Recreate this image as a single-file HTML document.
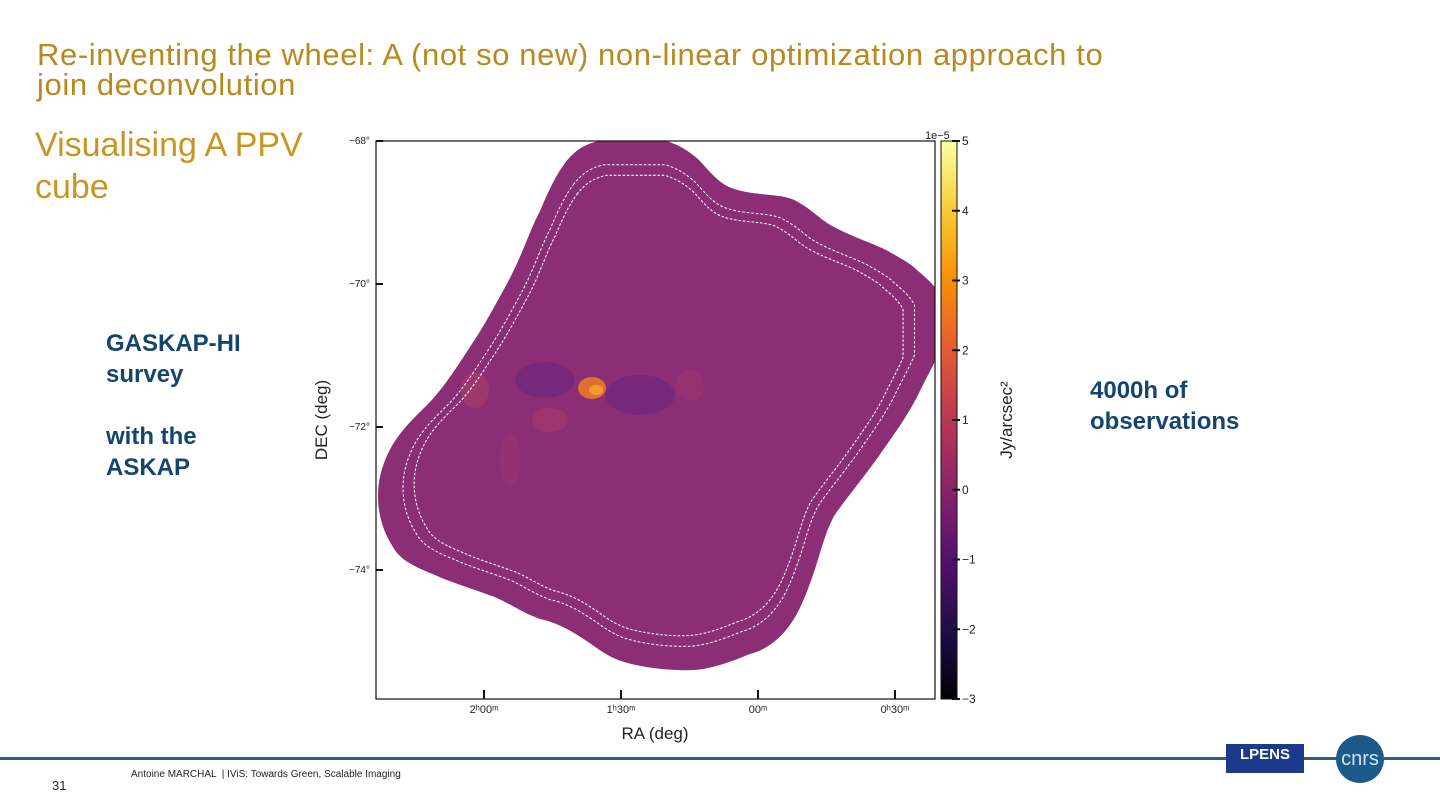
<!DOCTYPE html>
<html><head><meta charset="utf-8"><style>
body{margin:0;width:1440px;height:810px;background:#fff;position:relative;overflow:hidden;font-family:"Liberation Sans",sans-serif}
.t{position:absolute;margin:0}
</style></head><body>
<div class="t" style="left:37px;top:40px;font-size:31px;line-height:30px;color:#b8891f;letter-spacing:0.6px">Re-inventing the wheel: A (not so new) non-linear optimization approach to<br>join deconvolution</div>
<div class="t" style="left:35px;top:124px;font-size:34px;line-height:42px;color:#c99522">Visualising A PPV<br>cube</div>
<div class="t" style="left:106px;top:328px;font-size:24px;line-height:31px;color:#15456e;font-weight:bold">GASKAP-HI<br>survey<br><br>with the<br>ASKAP</div>
<div class="t" style="left:1090px;top:375px;font-size:24px;line-height:31px;color:#15456e;font-weight:bold">4000h of<br>observations</div>

<svg id="chart" width="1440" height="810" style="position:absolute;left:0;top:0" xmlns="http://www.w3.org/2000/svg">
<defs>
<linearGradient id="inferno" x1="0" y1="1" x2="0" y2="0">
<stop offset="0" stop-color="#000004"/><stop offset="0.12" stop-color="#1f0c48"/><stop offset="0.25" stop-color="#550f6d"/><stop offset="0.37" stop-color="#88226a"/><stop offset="0.5" stop-color="#ba3655"/><stop offset="0.62" stop-color="#e35933"/><stop offset="0.75" stop-color="#f98e09"/><stop offset="0.87" stop-color="#f8c932"/><stop offset="1" stop-color="#fcffa4"/>
</linearGradient>
<clipPath id="clip"><rect x="376" y="141" width="559" height="558"/></clipPath>
<path id="shape" d="M565,163 C575,150 585,144 599,141 L666,141 C680,145 690,152 699,160 C710,172 718,182 729,187 C750,196 775,193 792,199 C810,207 820,220 834,227 C855,238 875,244 888,251 C900,258 910,263 917,270 C926,278 934,284 940,295 L940,350 C934,365 925,380 917,397 C905,420 890,440 876,460 C860,482 845,500 834,516 C824,535 820,555 813,575 C806,595 800,610 792,622 C780,640 765,650 750,654 C730,662 715,668 695,670 C670,671 645,668 624,662 C605,656 595,646 582,638 C570,630 555,622 540,619 C520,612 505,600 489,595 C470,588 450,582 435,575 C415,567 400,560 393,547 C382,530 378,512 378,496 C378,475 385,458 393,444 C403,428 415,417 427,405 C442,390 455,370 468,350 C485,325 498,300 510,278 C522,255 530,230 540,211 C548,192 556,175 565,163 Z"/>
</defs>
<g clip-path="url(#clip)">
<use href="#shape" fill="#8b2e76"/>
<g>
<ellipse cx="545" cy="380" rx="30" ry="18" fill="#5e2380" opacity="0.45"/>
<ellipse cx="640" cy="395" rx="35" ry="20" fill="#5e2380" opacity="0.45"/>
<ellipse cx="592" cy="388" rx="14" ry="11" fill="#e8782a" opacity="0.9"/>
<ellipse cx="596" cy="390" rx="7" ry="5" fill="#f49b30"/>
<ellipse cx="475" cy="390" rx="14" ry="18" fill="#c2475c" opacity="0.35"/>
<ellipse cx="550" cy="420" rx="18" ry="12" fill="#c2475c" opacity="0.3"/>
<ellipse cx="690" cy="385" rx="14" ry="16" fill="#b4415f" opacity="0.25"/>
<ellipse cx="510" cy="460" rx="10" ry="25" fill="#b4415f" opacity="0.2"/>
</g>
<use href="#shape" fill="none" stroke="#fff" stroke-width="1.1" stroke-dasharray="3,2" transform="translate(656,405) scale(0.91) translate(-656,-405)"/>
<use href="#shape" fill="none" stroke="#fff" stroke-width="1.2" stroke-dasharray="3,2" transform="translate(656,405) scale(0.87) translate(-656,-405)"/>
</g>
<rect x="376" y="141" width="559" height="558" fill="none" stroke="#111" stroke-width="1.2"/>
<g id="yaxis" font-size="10" fill="#222"></g>
<g id="xaxis" font-size="11" fill="#222"></g>
<text x="327" y="420" font-size="17" fill="#222" text-anchor="middle" transform="rotate(-90 327 420)">DEC (deg)</text>
<text x="655" y="739" font-size="17" fill="#222" text-anchor="middle">RA (deg)</text>
<rect x="941" y="141" width="16" height="558" fill="url(#inferno)" stroke="#111" stroke-width="1"/>
<g id="cbar" font-size="12" fill="#222"></g>
<text x="925" y="139" font-size="11" fill="#222">1e−5</text>
<text x="1012" y="420" font-size="17" fill="#222" text-anchor="middle" transform="rotate(-90 1012 420)">Jy/arcsec²</text>
</svg>

<div style="position:absolute;left:0;top:757px;width:1440px;height:3px;background:#2a5f8a"></div>
<div class="t" style="left:52px;top:778px;font-size:13px;color:#222">31</div>
<div class="t" style="left:131px;top:769px;font-size:10px;color:#222">Antoine MARCHAL &nbsp;| IViS: Towards Green, Scalable Imaging</div>
<div style="position:absolute;left:1226px;top:744px;width:78px;height:29px;background:#1b3a8c;color:#fff;font-weight:bold;font-size:15px;text-align:center;line-height:22px">LPENS</div>
<div style="position:absolute;left:1336px;top:735px;width:48px;height:48px;border-radius:50%;background:#1d5a8c;color:#cfe3f2;font-size:20px;text-align:center;line-height:48px">cnrs</div>

<script>
const decTicks=[-68,-70,-72,-74];
const decLabels=["−68°","−70°","−72°","−74°"];
const raTicks=[2.0,1.5,1.0,0.5];
const raLabels=["2ʰ00ᵐ","1ʰ30ᵐ","00ᵐ","0ʰ30ᵐ"];
const cbarTicks=[5,4,3,2,1,0,-1,-2,-3];
const NS="http://www.w3.org/2000/svg";
const yDec=d=>141+(-68-d)*71.5;
const xRa=r=>484+(2.0-r)*2*137;
const yC=v=>141+(5-v)*69.75;
function mk(tag,attrs,parent,txt){const e=document.createElementNS(NS,tag);for(const k in attrs)e.setAttribute(k,attrs[k]);if(txt!==undefined)e.textContent=txt;parent.appendChild(e);return e;}
const ya=document.getElementById('yaxis');
decTicks.forEach((d,i)=>{const y=yDec(d);
 const l=mk('line',{x1:376,x2:383,y1:y,y2:y,stroke:'#111','stroke-width':2},ya);
 
 
 const t=mk('text',{x:370,y:y+3,'text-anchor':'end'},ya,decLabels[i]);
 
 });
const xa=document.getElementById('xaxis');
raTicks.forEach((r,i)=>{const x=xRa(r);
 const l=mk('line',{x1:x,x2:x,y1:699,y2:690,stroke:'#111','stroke-width':2},xa);
 
 
 const t=mk('text',{x:x,y:713,'text-anchor':'middle'},xa,raLabels[i]);
 
 });
const cb=document.getElementById('cbar');
cbarTicks.forEach(v=>{const y=yC(v);
 const l=mk('line',{x1:952,x2:960,y1:y,y2:y,stroke:'#111','stroke-width':2},cb);
 
 
 const t=mk('text',{x:962,y:y+4},cb,v<0?'−'+(-v):String(v));
 
 });
</script>
</body></html>
